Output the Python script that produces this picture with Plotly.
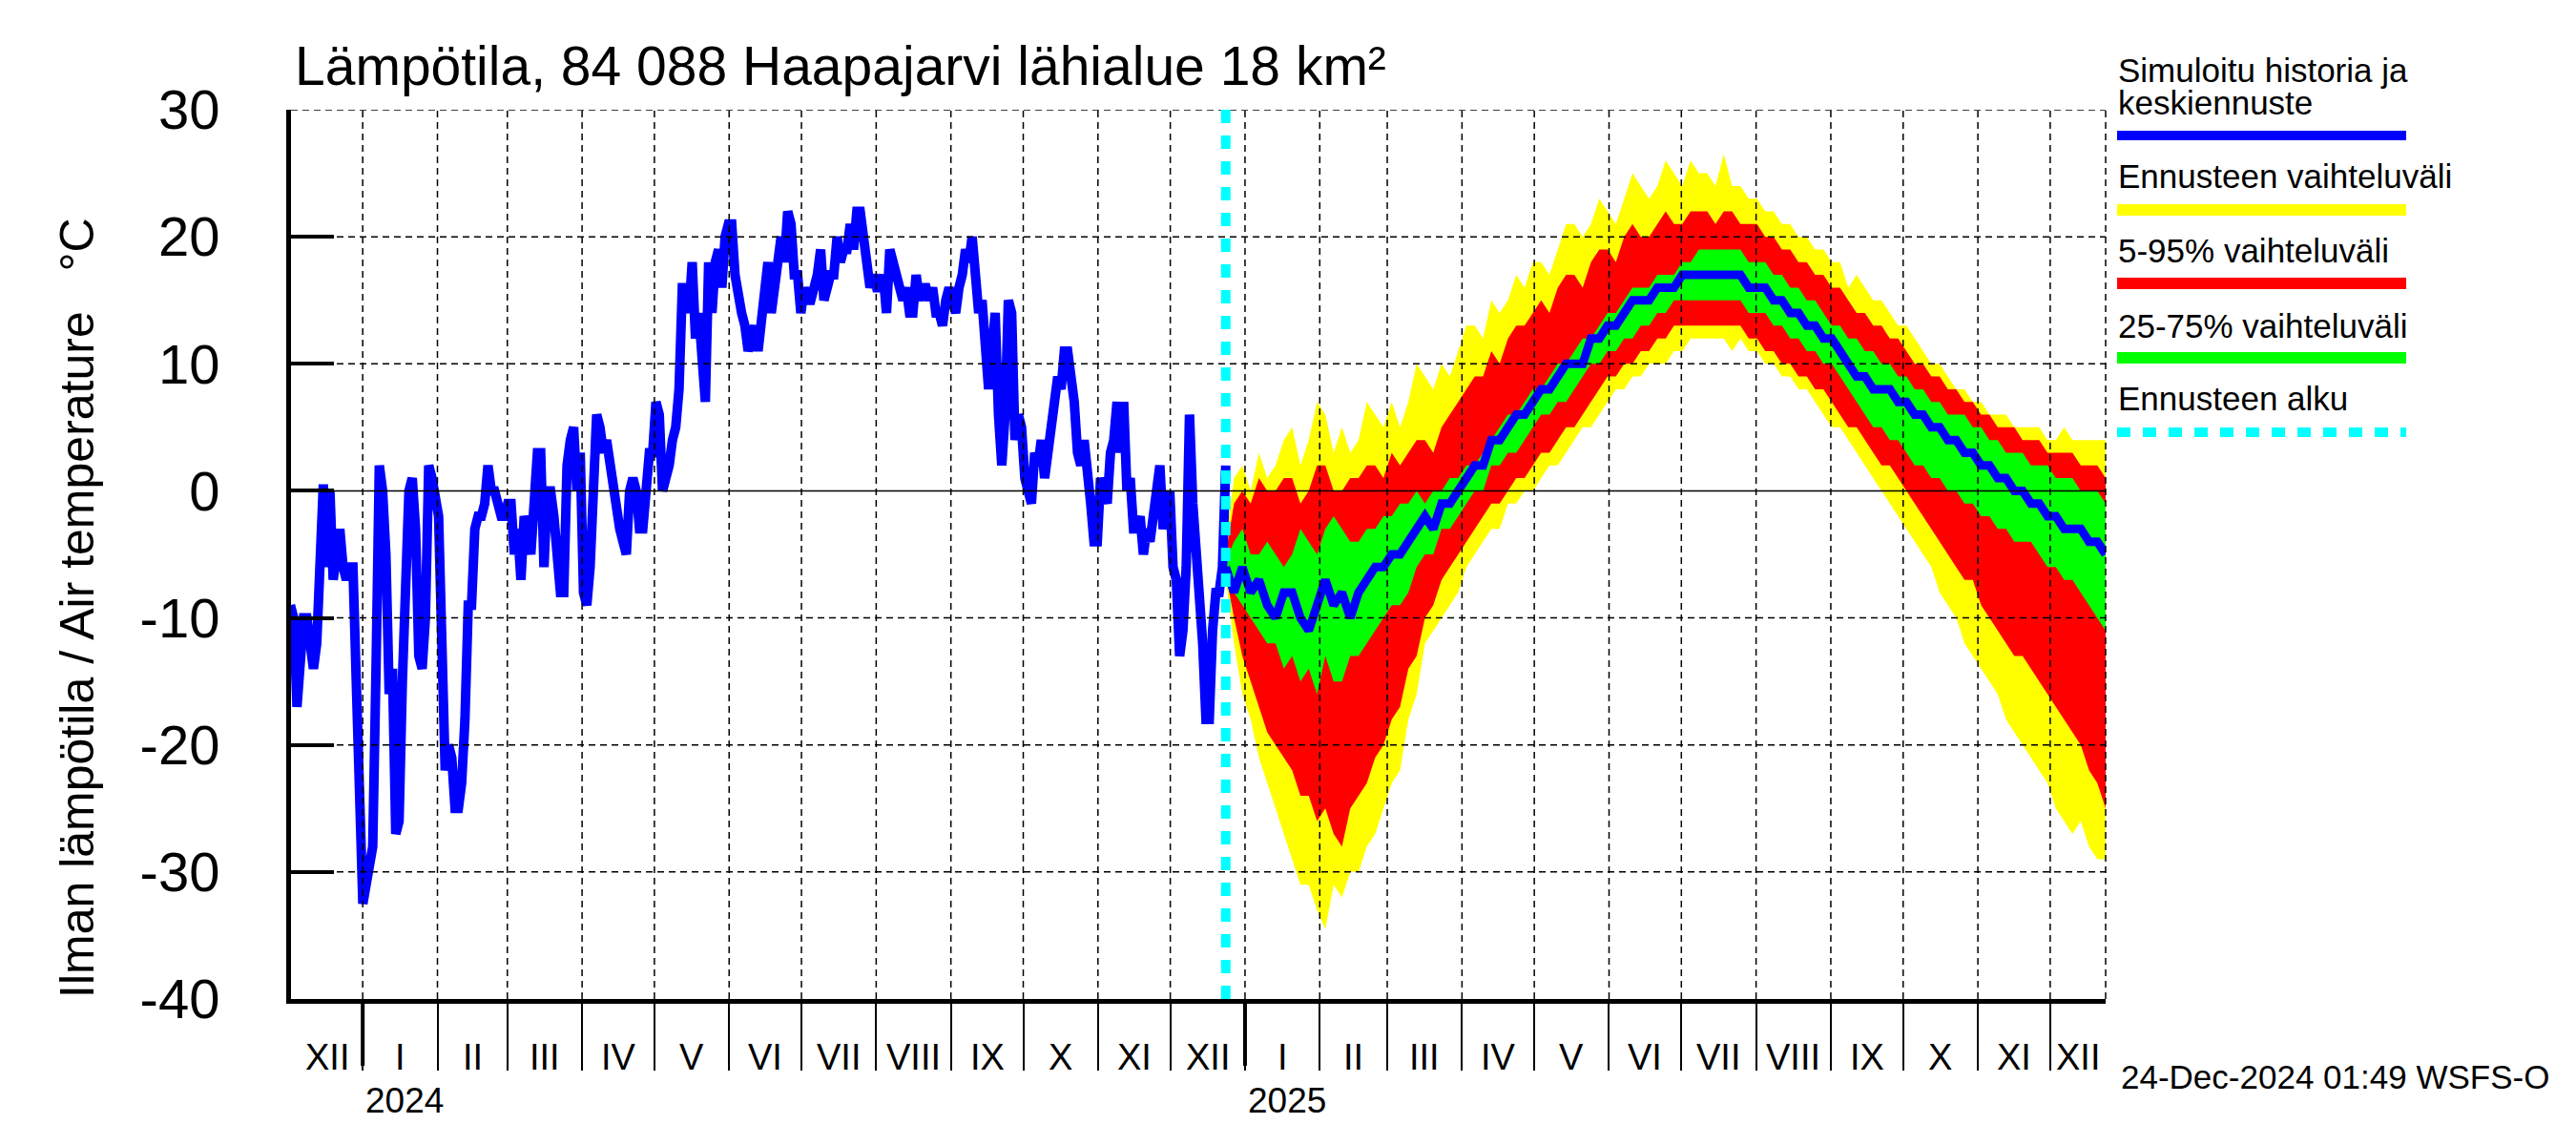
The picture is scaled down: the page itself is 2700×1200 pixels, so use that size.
import plotly.graph_objects as go
import pandas as pd

# ---------------- data ----------------
hist_start, hist_end = "2023-12-02", "2024-12-24"
hist_temp = [
    -9, -10, -17, -12, -10, -10, -13, -14, -12, -3, 0.5, -6, 0, -7, -5, -3, -6, -7, -6, -6,
    -15, -24, -32.5, -31, -29, -28, -14, 2, 0, -5, -16, -14, -27, -26, -15, -5, 0, 1, -3, -13,
    -14, -10, 2, 1, -1, -2, -12, -22, -20, -21, -25, -25, -23, -18, -9, -9, -3, -2, -2, -1,
    2, 0, 0, -1, -2, -2, -1, -1, -5, -3, -7, -2, -3, -5,
    0, 3, 3, -6, 0, 0, -2, -5, -8, -8, 2, 4, 5, 0, 3, -8, -9, -6, 1, 6,
    5, 3, 4, 2, 0, -1, -3, -4, -5, 0, 1, 0, -3, -3, 1, 3, 3, 7, 6, 0,
    1, 2, 4, 5, 8, 16, 16, 14, 18, 12, 14, 9, 7, 18, 14, 18, 19, 16, 20, 21,
    21, 17, 15, 14, 13, 11, 12, 13, 11, 14, 15, 18, 14, 17, 18, 20, 18, 22, 21, 17,
    17, 14, 16, 15, 15, 16, 17, 19, 15, 16, 17, 17, 20, 18, 19, 19, 21, 19, 22, 22,
    20, 17, 16, 17, 16, 16, 17, 14, 19, 18, 17, 16, 15, 16, 14, 14, 17, 15, 16, 16,
    15, 16, 14, 14, 13, 15, 16, 15, 14, 16, 17, 19, 18, 20, 17, 14, 15, 10, 8, 11,
    14, 6, 2, 6, 15, 14, 4, 6, 5, 1, 0, -1, 3, 2, 4, 1, 3, 5, 6, 9,
    8, 11, 11, 9, 7, 3, 2, 4, 2, -1, -4, -4, 1, 0, -1, 3, 4, 7, 3, 7,
    0, 1, -3, -3, -2, -5, -3, -4, -2, 1, 2, -3, -1, 0, -6, -7, -13, -11, -6, 6,
    -1, -5, -7, -12, -18, -18, -11, -8, -8, -6, 2,
]

fc_start, fc_end = "2024-12-24", "2025-12-24"
fc_max = [-4, 1, 2, 0, 3, 1, 2, 4, 5, 2, 4, 7, 6, 3, 5, 3, 4, 7, 6, 5,
          7, 5, 7, 10, 9, 8, 10, 9, 11, 13, 13, 12, 15, 14, 15, 17, 16, 18, 18, 17,
          19, 21, 21, 20, 21, 23, 22, 21, 23, 25, 24, 23, 24, 26, 25, 24, 26, 25, 25, 24,
          26.5, 24, 24, 23, 23, 22, 22, 21, 21, 20, 20, 19, 19, 18, 18, 16, 17, 16, 15, 15,
          14, 13, 13, 12, 11, 10, 10, 9, 8, 8, 7, 7, 6, 6, 6, 5, 5, 5, 5, 4,
          4, 5, 4, 4, 4, 4, 4]
fc_p95 = [-5, -1, 0, -1, 1, 0, 0, 1, 1, -1, 0, 2, 2, 0, 0, 1, 1, 2, 2, 1,
          3, 2, 3, 4, 4, 3, 5, 6, 7, 8, 9, 9, 11, 10, 12, 13, 13, 14, 15, 14,
          16, 17, 17, 16, 18, 19, 19, 18, 20, 21, 20, 20, 21, 22, 21, 21, 22, 22, 22, 21,
          22, 22, 21, 21, 21, 20, 20, 19, 19, 18, 18, 17, 17, 16, 16, 15, 14, 14, 13, 13,
          12, 12, 11, 10, 10, 9, 9, 8, 8, 7, 7, 6, 6, 5, 5, 5, 4, 4, 4, 3,
          3, 3, 3, 2, 2, 2, 1]
fc_p75 = [-5.5, -4, -3, -5, -5, -4, -5, -6, -5, -3, -4, -5, -3, -2, -3, -4, -4, -3, -3, -2,
          -2, -1, -1, 0, -1, 0, 0, 1, 1, 2, 2, 3, 4, 5, 6, 6, 7, 8, 8, 9,
          10, 10, 11, 12, 12, 13, 14, 14, 15, 16, 16, 16, 17, 17, 17, 18, 18, 19, 19, 19,
          19, 19, 19, 18, 18, 18, 17, 17, 16, 16, 15, 15, 14, 13, 13, 12, 12, 11, 11, 10,
          10, 9, 9, 8, 8, 7, 7, 6, 6, 6, 5, 5, 4, 4, 3, 3, 3, 2, 2, 2,
          1, 1, 1, 0, 0, 0, -1]
fc_med = [-6, -8, -6, -8, -7, -9, -10, -8, -8, -10, -11, -9, -7, -9, -8, -10, -8, -7, -6, -6,
          -5, -5, -4, -3, -2, -3, -1, -1, 0, 1, 2, 2, 4, 4, 5, 6, 6, 7, 8, 8,
          9, 10, 10, 10, 12, 12, 13, 13, 14, 15, 15, 15, 16, 16, 16, 17, 17, 17, 17, 17,
          17, 17, 17, 16, 16, 16, 15, 15, 14, 14, 13, 13, 12, 12, 11, 10, 9, 9, 8, 8,
          8, 7, 7, 6, 6, 5, 5, 4, 4, 3, 3, 2, 2, 1, 1, 0, 0, -1, -1, -2,
          -2, -3, -3, -3, -4, -4, -5]
fc_p25 = [-6, -8, -9, -10, -11, -12, -12, -14, -13, -15, -14, -16, -13, -15, -15, -13, -13, -12, -11, -10,
          -9, -9, -8, -6, -5, -5, -3, -3, -2, -1, 0, 0, 2, 2, 3, 3, 4, 5, 6, 6,
          7, 7, 8, 9, 10, 10, 11, 11, 12, 12, 13, 13, 14, 14, 15, 15, 15, 15, 15, 15,
          15, 15, 15, 14, 14, 14, 13, 13, 12, 12, 11, 11, 10, 10, 9, 8, 7, 6, 5, 5,
          4, 4, 3, 2, 2, 1, 1, 0, 0, -1, -1, -2, -2, -3, -3, -4, -4, -4, -5, -6,
          -6, -7, -7, -8, -9, -10, -11]
fc_p05 = [-6.5, -10, -13, -15, -17, -19, -20, -21, -22, -24, -24, -26, -25, -27, -28, -25, -24, -23, -21, -20,
          -18, -17, -14, -13, -10, -9, -7, -6, -5, -4, -3, -2, -1, -1, 0, 1, 1, 2, 3, 3,
          4, 5, 5, 6, 7, 8, 9, 9, 10, 10, 11, 11, 12, 12, 13, 13, 13, 13, 13, 13,
          13, 13, 13, 12, 12, 11, 11, 10, 10, 9, 9, 8, 8, 7, 6, 5, 5, 4, 3, 2,
          2, 1, 0, -1, -2, -3, -4, -5, -6, -7, -7, -9, -10, -11, -12, -13, -13, -14, -15, -16,
          -17, -18, -19, -20, -22, -23, -25]
fc_min = [-7, -12, -16, -18, -21, -23, -25, -27, -29, -31, -31, -33, -34.5, -31, -32, -30, -30, -28, -27, -25,
          -23, -22, -18, -16, -12, -11, -10, -9, -8, -6, -5, -4, -3, -3, -1, -1, 0, 0, 1, 2,
          2, 3, 4, 5, 5, 6, 7, 8, 8, 9, 9, 10, 10, 10, 11, 11, 12, 12, 12, 12,
          12, 11, 12, 11, 11, 10, 10, 9, 9, 8, 8, 7, 6, 5, 5, 4, 3, 2, 1, 0,
          -1, -2, -3, -4, -5, -6, -8, -9, -10, -12, -13, -14, -15, -16, -18, -19, -20, -21, -22, -23,
          -25, -26, -27, -26, -28, -29, -29]

month_labels = ["I", "II", "III", "IV", "V", "VI", "VII", "VIII", "IX", "X", "XI", "XII"]
x_range = ["2023-12-02 06:00", "2025-12-24"]
y_range = [-40, 30]
y_ticks = [-40, -30, -20, -10, 0, 10, 20, 30]
y_ticktext = ["-40", "-30", "-20", "-10", "0", "10", "20", "30"]
forecast_start = "2024-12-24"

title_text = "Lämpötila, 84 088 Haapajarvi lähialue 18 km²"
ytitle_text = "Ilman lämpötila / Air temperature\u00a0\u00a0\u00a0°C"
stamp_text = "24-Dec-2024 01:49 WSFS-O"
legend_labels = ["Simuloitu historia ja", "keskiennuste", "Ennusteen vaihteluväli",
                 "5-95% vaihteluväli", "25-75% vaihteluväli", "Ennusteen alku"]
legend_colors = ["#0000FF", "#FFFF00", "#FF0000", "#00FF00", "#00FFFF"]

# ---------------- geometry ----------------
W, H = 2700, 1200
L, R, T, B = 305, 2207, 115, 1047
def px(X):
    return (X - L) / (R - L)
def py(Y):
    return (B - Y) / (B - T)

FONT = "Liberation Sans, Arial, Helvetica, sans-serif"

hist_x = pd.date_range(hist_start, hist_end, periods=len(hist_temp))
fc_x = pd.date_range(fc_start, fc_end, periods=len(fc_med))

fig = go.Figure()

def band(lo, hi, color):
    fig.add_trace(go.Scatter(x=fc_x, y=lo, mode="lines", line=dict(width=0, color=color),
                             showlegend=False, hoverinfo="skip"))
    fig.add_trace(go.Scatter(x=fc_x, y=hi, mode="lines", line=dict(width=0, color=color),
                             fill="tonexty", fillcolor=color, showlegend=False, hoverinfo="skip"))

band(fc_min, fc_max, "#FFFF00")
band(fc_p05, fc_p95, "#FF0000")
band(fc_p25, fc_p75, "#00FF00")
fig.add_trace(go.Scatter(x=fc_x, y=fc_med, mode="lines", line=dict(width=9, color="#0000FF"),
                         showlegend=False))
fig.add_trace(go.Scatter(x=hist_x, y=hist_temp, mode="lines", line=dict(width=10, color="#0000FF"),
                         showlegend=False))

# month boundaries
x0 = pd.Timestamp(x_range[0]); x1 = pd.Timestamp(x_range[1])
month_starts = list(pd.date_range("2023-12-01", "2026-01-01", freq="MS"))
inside = [d for d in month_starts if x0 < d < x1]

GRID = dict(color="black", width=1.5, dash="7px,5px")
shapes = []
for d in inside:
    shapes.append(dict(type="line", xref="x", yref="paper", x0=d, x1=d, y0=0, y1=1,
                       line=GRID, layer="above"))
for v in y_ticks[1:]:
    ln = dict(color="black", width=1.5) if v == 0 else GRID
    shapes.append(dict(type="line", xref="paper", yref="y", x0=0, x1=1, y0=v, y1=v,
                       line=ln, layer="above"))
shapes.append(dict(type="line", xref="paper", yref="paper", x0=1, x1=1, y0=0, y1=1,
                   line=GRID, layer="above"))
shapes.append(dict(type="line", xref="x", yref="paper", x0=forecast_start, x1=forecast_start,
                   y0=0, y1=1, line=dict(color="#00FFFF", width=10, dash="14px,13px"), layer="above"))
for d in inside:
    if d.month == 1:
        shapes.append(dict(type="line", xref="x", yref="paper", x0=d, x1=d,
                           y0=0, y1=-(1117 - B) / (B - T), line=dict(color="black", width=4)))

annotations = []
for d in month_starts:
    a = max(d, x0)
    e = min(d + pd.offsets.MonthBegin(1), x1)
    if e <= a:
        continue
    mid = a + (e - a) / 2
    annotations.append(dict(x=mid, y=py(1108), xref="x", yref="paper", text=month_labels[d.month - 1],
                            showarrow=False, xanchor="center", yanchor="middle",
                            font=dict(family=FONT, size=38, color="black")))
for d in inside:
    if d.month == 1:
        annotations.append(dict(x=d, y=py(1153), xref="x", yref="paper", text=str(d.year),
                                showarrow=False, xanchor="left", yanchor="middle", xshift=1,
                                font=dict(family=FONT, size=37, color="black")))
annotations.append(dict(x=px(307), y=py(69), xref="paper", yref="paper", text=title_text,
                        showarrow=False, xanchor="left", yanchor="middle",
                        font=dict(family=FONT, size=57, color="black")))
annotations.append(dict(x=px(81), y=py(637), xref="paper", yref="paper", text=ytitle_text,
                        showarrow=False, xanchor="center", yanchor="middle", textangle=-90,
                        font=dict(family=FONT, size=50, color="black")))
annotations.append(dict(x=px(2221), y=py(1128), xref="paper", yref="paper", text=stamp_text,
                        showarrow=False, xanchor="left", yanchor="middle",
                        font=dict(family=FONT, size=35, color="black")))

# legend
leg_text_y = [74, 107, 185, 262, 341, 418]
for txt, ty in zip(legend_labels, leg_text_y):
    annotations.append(dict(x=px(2218), y=py(ty), xref="paper", yref="paper", text=txt,
                            showarrow=False, xanchor="left", yanchor="middle", align="left",
                            font=dict(family=FONT, size=35, color="black")))
leg_line_y = [142, 220, 297, 375, 453]
leg_width = [10, 12, 12, 12, 10]
leg_dash = ["solid", "solid", "solid", "solid", "14px,13px"]
for col, ly, lw, ds in zip(legend_colors, leg_line_y, leg_width, leg_dash):
    shapes.append(dict(type="line", xref="paper", yref="paper", x0=px(2219), x1=px(2522),
                       y0=py(ly), y1=py(ly), line=dict(color=col, width=lw, dash=ds)))

fig.update_layout(
    width=W, height=H,
    margin=dict(l=L, r=W - R, t=T, b=H - B, pad=0),
    paper_bgcolor="white", plot_bgcolor="white",
    showlegend=False,
    shapes=shapes, annotations=annotations,
    xaxis=dict(type="date", range=x_range, tickvals=inside, showticklabels=False,
               ticks="outside", ticklen=1117 - B, tickwidth=1.5, tickcolor="black",
               showgrid=False, zeroline=False, showline=True, linewidth=5, linecolor="black"),
    yaxis=dict(range=y_range, tickvals=y_ticks, ticktext=y_ticktext, ticks="inside", ticklen=45,
               tickwidth=4, tickcolor="black", showgrid=False, zeroline=False, showline=True,
               linewidth=5, linecolor="black", ticklabelstandoff=58,
               tickfont=dict(family=FONT, size=58, color="black")),
)

fig.write_html("out.html", config={"displayModeBar": False},
               post_script="document.body.style.margin='0px';")
